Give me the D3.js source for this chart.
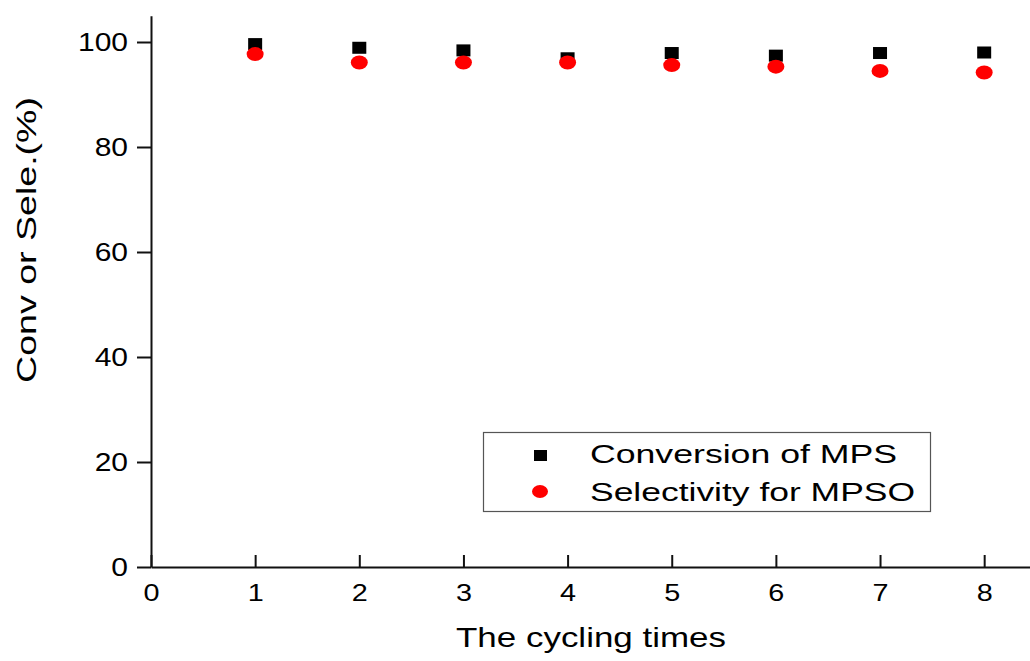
<!DOCTYPE html>
<html lang="en">
<head>
    <meta charset="UTF-8">
    <title>Cycling times</title>
    <script src="https://d3js.org/d3.v7.min.js"></script>
    <style>
        body { margin: 0; background: #fff; }
        text { font-family: "Liberation Sans", Arial, sans-serif; fill: #000; }
        .axis path, .axis line { stroke: #111; stroke-width: 2px; }
    </style>
</head>
<body>
<div id="chart"></div>
<script>
    // data
    var cycles = [1, 2, 3, 4, 5, 6, 7, 8];
    var conversion = [99.6, 98.9, 98.4, 96.9, 97.9, 97.4, 97.9, 98.0];
    var selectivity = [97.7, 96.1, 96.1, 96.1, 95.6, 95.3, 94.5, 94.2];
    var xTicks = [0, 1, 2, 3, 4, 5, 6, 7, 8];
    var yTicks = [0, 20, 40, 60, 80, 100];
    var seriesNames = ["Conversion of MPS", "Selectivity for MPSO"];

    var W = 1030, H = 661;
    var svg = d3.select("#chart").append("svg")
        .attr("width", W).attr("height", H);

    var x = d3.scaleLinear().domain([0, 8.44]).range([151, 1030]);
    var y = d3.scaleLinear().domain([0, 105]).range([567, 15.75]);

    // the original picture is stretched sideways, so text is too
    var sx = 1.2;

    // y axis, ticks outward
    var yAxis = d3.axisLeft(y).tickValues(yTicks).tickSizeInner(14).tickSizeOuter(0).tickPadding(9);
    var gy = svg.append("g").attr("class", "axis")
        .attr("transform", "translate(151,0)")
        .call(yAxis);
    gy.selectAll("text")
        .style("font-size", "25px")
        .attr("x", -23 / sx)
        .attr("transform", "scale(" + sx + ",1)");

    // x axis, ticks inward
    var xAxis = d3.axisBottom(x).tickValues(xTicks).tickSizeInner(-12).tickSizeOuter(0).tickPadding(17);
    var gx = svg.append("g").attr("class", "axis")
        .attr("transform", "translate(0,567)")
        .call(xAxis);
    gx.selectAll("text")
        .style("font-size", "24px")
        .attr("transform", "scale(" + sx + ",1)");

    // axis titles
    svg.append("text")
        .attr("x", 456).attr("y", 647)
        .style("font-size", "28px")
        .attr("textLength", 270).attr("lengthAdjust", "spacingAndGlyphs")
        .text("The cycling times");

    svg.append("text")
        .attr("transform", "translate(36,97) rotate(-90)")
        .attr("x", -286).attr("y", 0)
        .style("font-size", "28px")
        .attr("textLength", 286).attr("lengthAdjust", "spacingAndGlyphs")
        .text("Conv or Sele.(%)");

    // points
    var conv = cycles.map(function(c, i) { return {c: c, v: conversion[i]}; });
    var sele = cycles.map(function(c, i) { return {c: c, v: selectivity[i]}; });

    svg.selectAll(".sq").data(conv).enter().append("rect")
        .attr("class", "sq")
        .attr("x", function(d) { return x(d.c) - 7; })
        .attr("y", function(d) { return y(d.v) - 6; })
        .attr("width", 14).attr("height", 12)
        .attr("fill", "#000");

    svg.selectAll(".dot").data(sele).enter().append("ellipse")
        .attr("class", "dot")
        .attr("cx", function(d) { return x(d.c); })
        .attr("cy", function(d) { return y(d.v); })
        .attr("rx", 8.5).attr("ry", 7)
        .attr("fill", "#f00");

    // legend
    var lg = svg.append("g");
    lg.append("rect")
        .attr("x", 483.5).attr("y", 432.5)
        .attr("width", 447).attr("height", 79)
        .attr("fill", "#fff").attr("stroke", "#555").attr("stroke-width", 1.2);
    lg.append("rect")
        .attr("x", 534).attr("y", 450).attr("width", 13).attr("height", 11)
        .attr("fill", "#000");
    lg.append("ellipse")
        .attr("cx", 540).attr("cy", 491.5).attr("rx", 8).attr("ry", 6.5)
        .attr("fill", "#f00");
    lg.append("text")
        .attr("x", 590).attr("y", 463)
        .style("font-size", "26px")
        .attr("textLength", 307).attr("lengthAdjust", "spacingAndGlyphs")
        .text(seriesNames[0]);
    lg.append("text")
        .attr("x", 590).attr("y", 501)
        .style("font-size", "26px")
        .attr("textLength", 325).attr("lengthAdjust", "spacingAndGlyphs")
        .text(seriesNames[1]);
</script>
</body>
</html>
